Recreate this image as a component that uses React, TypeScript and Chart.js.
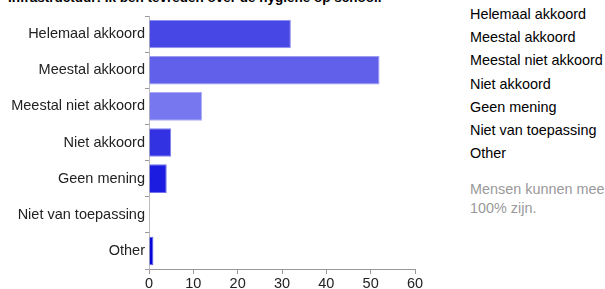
import React, { useEffect, useRef } from "react";
import { Chart, registerables } from "chart.js";

Chart.register(...registerables);

const categories = [
  "Helemaal akkoord",
  "Meestal akkoord",
  "Meestal niet akkoord",
  "Niet akkoord",
  "Geen mening",
  "Niet van toepassing",
  "Other",
];
const counts = [32, 52, 12, 5, 4, 0, 1];
const barColors = ["#4747e6", "#6060ea", "#7777ef", "#3232e3", "#1c1ce1", "#0e0edc", "#0505d8"];
const barBorders = ["#8f8ff0", "#9c9cf2", "#adadf5", "#8080ee", "#7070ec", "#6a6ae9", "#6060e8"];
const xTicks = [0, 10, 20, 30, 40, 50, 60];
const title = "Infrastructuur: Ik ben tevreden over de hygiene op school.";
const note = ["Mensen kunnen mee", "100% zijn."];

const FONT = "Arial, 'Liberation Sans', sans-serif";

export default function App() {
  const ref = useRef<HTMLCanvasElement | null>(null);
  useEffect(() => {
    if (!ref.current) return;
    const chart = new Chart(ref.current, {
      type: "bar",
      data: {
        labels: categories,
        datasets: [
          {
            data: counts,
            backgroundColor: barColors,
            borderColor: barBorders,
            borderWidth: 1,
            barPercentage: 0.79,
            categoryPercentage: 1,
          },
        ],
      },
      options: {
        indexAxis: "y",
        responsive: false,
        animation: false,
        layout: { padding: { top: 16, right: 30, left: 0, bottom: 0 } },
        plugins: { legend: { display: false }, tooltip: { enabled: false } },
        scales: {
          x: {
            min: 0,
            max: 60,
            afterBuildTicks: (s: any) => {
              s.ticks = xTicks.map((v) => ({ value: v }));
            },
            ticks: { font: { family: FONT, size: 14.5 }, color: "#222", padding: 1 },
            grid: { drawOnChartArea: false, drawTicks: true, tickLength: 5, color: "#999" },
            border: { color: "#999", width: 1 },
            afterFit: (s: any) => {
              s.height = 20;
            },
          },
          y: {
            ticks: { font: { family: FONT, size: 14.5 }, color: "#222", padding: 0 },
            grid: { drawOnChartArea: false, drawTicks: true, tickLength: 4, color: "#999" },
            border: { color: "#bbb", width: 1 },
            afterFit: (s: any) => {
              s.width = 149;
            },
          },
        },
      },
    });
    return () => chart.destroy();
  }, []);

  return (
    <div
      style={{
        position: "fixed",
        left: 0,
        top: 0,
        width: 605,
        height: 289,
        overflow: "hidden",
        background: "#fff",
        fontFamily: FONT,
      }}
    >
      <div
        style={{
          position: "absolute",
          left: 8,
          top: -10,
          fontSize: 13.5,
          fontWeight: "bold",
          color: "#000",
          whiteSpace: "nowrap",
        }}
      >
        {title}
      </div>
      <canvas ref={ref} width={445} height={289} style={{ position: "absolute", left: 0, top: 0 }} />
      <div
        style={{
          position: "absolute",
          left: 470,
          top: 3,
          fontSize: 14.4,
          lineHeight: "23.2px",
          color: "#000",
          whiteSpace: "nowrap",
        }}
      >
        {categories.map((c) => (
          <div key={c}>{c}</div>
        ))}
      </div>
      <div
        style={{
          position: "absolute",
          left: 470,
          top: 180,
          fontSize: 14.4,
          lineHeight: "19px",
          color: "#999",
          whiteSpace: "nowrap",
        }}
      >
        {note.map((n) => (
          <div key={n}>{n}</div>
        ))}
      </div>
    </div>
  );
}
